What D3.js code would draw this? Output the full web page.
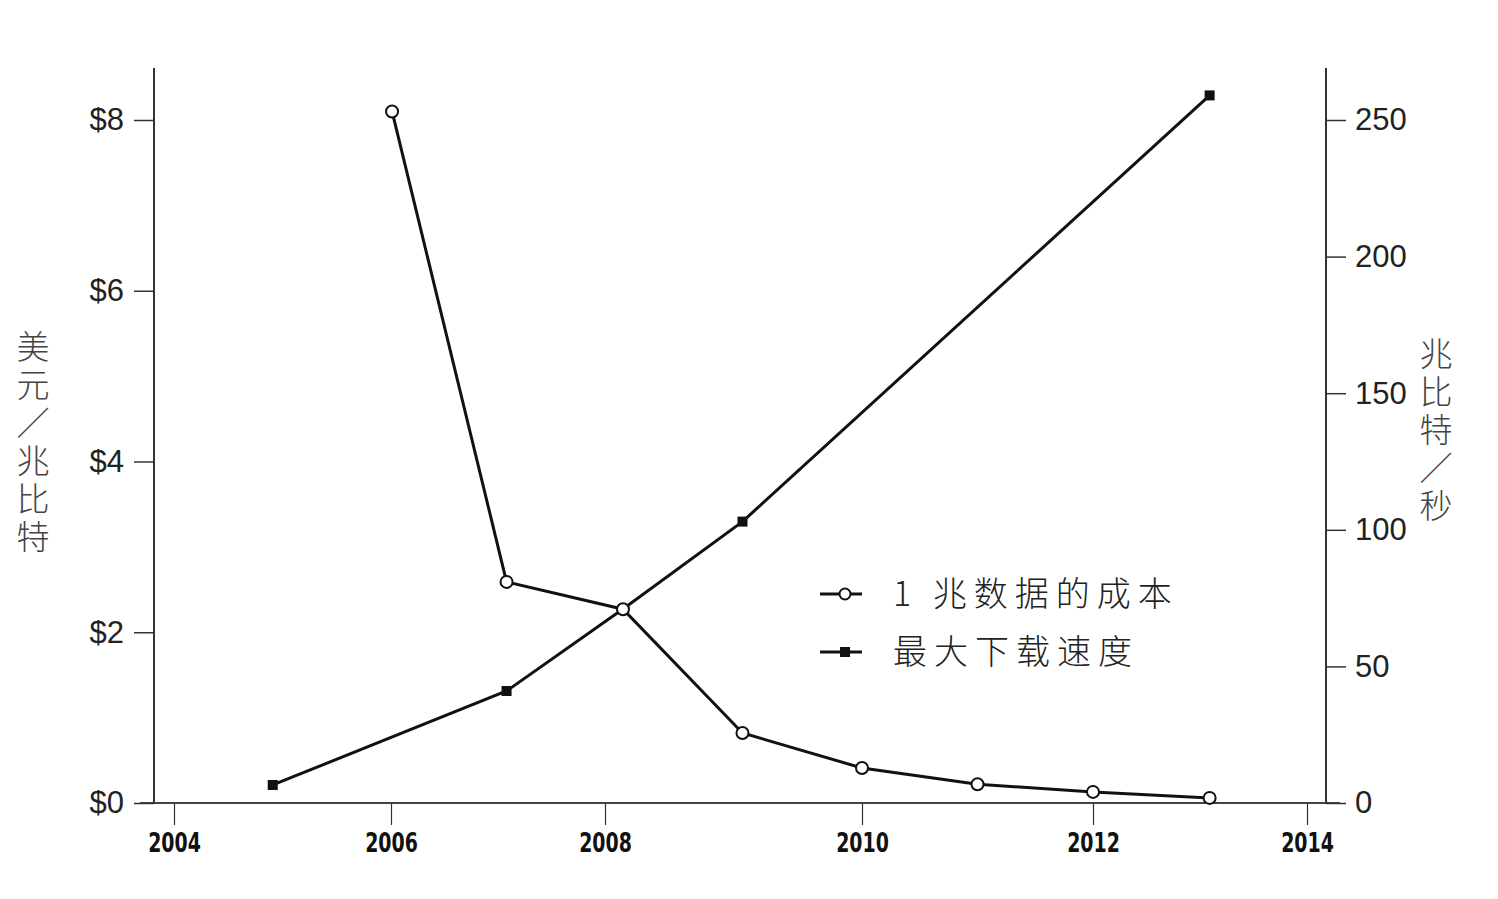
<!DOCTYPE html>
<html><head><meta charset="utf-8">
<script src="https://cdn.jsdelivr.net/npm/d3@7"></script>
<style>
html,body{margin:0;padding:0;background:#fff;}
svg{display:block;}
</style></head>
<body>
<svg id="chart" width="1498" height="899"></svg>
<script>
// ---- data ----
const tickYears = [2004, 2006, 2008, 2010, 2012, 2014];
const costYears = [2006.01, 2007.08, 2008.14, 2009.07, 2010.0, 2011.0, 2012.0, 2013.09];
const costValues = [8.10, 2.59, 2.27, 0.82, 0.41, 0.22, 0.13, 0.06];
const speedYears = [2004.91, 2007.08, 2008.14, 2009.07, 2013.09];
const speedValues = [6.6, 41, 71, 103, 259];
const leftTicks = [0, 2, 4, 6, 8];
const rightTicks = [0, 50, 100, 150, 200, 250];
const legendLabels = ["1 兆数据的成本", "最大下载速度"];
const leftTitle = "美元／兆比特";
const rightTitle = "兆比特／秒";

// ---- layout ----
const svg = d3.select("#chart");
const plotLeft = 154, plotRight = 1326, baseY = 803;
const x = d3.scaleLinear().domain(tickYears).range([174, 391, 605, 862, 1093, 1307]);
const yL = d3.scaleLinear().domain([0, 8]).range([baseY, 120]);
const yR = d3.scaleLinear().domain([0, 250]).range([baseY, 120]);
const axisColor = "#333";

// x baseline
svg.append("line").attr("x1", 140).attr("x2", 1340).attr("y1", baseY).attr("y2", baseY)
  .attr("stroke", "#444").attr("stroke-width", 2);

// left axis
const gL = svg.append("g").attr("transform", `translate(${plotLeft},0)`)
  .call(d3.axisLeft(yL).tickValues(leftTicks).tickSize(20).tickPadding(10).tickFormat(d => "$" + d));
gL.select(".domain").remove();
gL.selectAll(".tick line").attr("stroke", axisColor).attr("stroke-width", 1.5);
gL.selectAll(".tick text").attr("font-family", "Liberation Sans, Arial, sans-serif").attr("font-size", 31).attr("fill", "#222");
svg.append("line").attr("x1", plotLeft).attr("x2", plotLeft).attr("y1", 68).attr("y2", baseY)
  .attr("stroke", axisColor).attr("stroke-width", 2);

// right axis
const gR = svg.append("g").attr("transform", `translate(${plotRight},0)`)
  .call(d3.axisRight(yR).tickValues(rightTicks).tickSize(20).tickPadding(9));
gR.select(".domain").remove();
gR.selectAll(".tick line").attr("stroke", axisColor).attr("stroke-width", 1.5);
gR.selectAll(".tick text").attr("font-family", "Liberation Sans, Arial, sans-serif").attr("font-size", 31).attr("fill", "#222");
svg.append("line").attr("x1", plotRight).attr("x2", plotRight).attr("y1", 68).attr("y2", baseY)
  .attr("stroke", axisColor).attr("stroke-width", 2);

// bottom axis
const gX = svg.append("g").attr("transform", `translate(0,${baseY})`)
  .call(d3.axisBottom(x).tickValues(tickYears).tickSize(22).tickPadding(8).tickFormat(d3.format("d")));
gX.select(".domain").remove();
gX.selectAll(".tick line").attr("stroke", axisColor).attr("stroke-width", 1.2);
gX.selectAll(".tick text").attr("font-family", "Liberation Sans Narrow, DejaVu Sans Condensed, sans-serif")
  .attr("font-weight", "bold").attr("font-size", 27).attr("fill", "#111")
  .attr("transform", "scale(0.78,1)");

// axis titles (vertical)
function vtitle(str, cx, y0) {
  svg.append("text").attr("x", cx).attr("y", y0)
    .style("writing-mode", "vertical-rl")
    .attr("font-family", "Noto Sans CJK SC").attr("font-weight", 300)
    .attr("font-size", 33).attr("fill", "#444")
    .attr("letter-spacing", 5)
    .text(str);
}
vtitle(leftTitle, 33, 330);
vtitle(rightTitle, 1436, 337);

// lines
const lineCost = d3.line().x((d, i) => x(costYears[i])).y(d => yL(d));
const lineSpeed = d3.line().x((d, i) => x(speedYears[i])).y(d => yR(d));
svg.append("path").datum(speedValues).attr("d", lineSpeed)
  .attr("fill", "none").attr("stroke", "#111").attr("stroke-width", 3);
svg.append("path").datum(costValues).attr("d", lineCost)
  .attr("fill", "none").attr("stroke", "#111").attr("stroke-width", 3);

// markers
const sq = 10;
svg.selectAll("rect.spd").data(speedValues).enter().append("rect").attr("class", "spd")
  .attr("x", (d, i) => x(speedYears[i]) - sq / 2).attr("y", d => yR(d) - sq / 2)
  .attr("width", sq).attr("height", sq).attr("fill", "#111");
svg.selectAll("circle.cost").data(costValues).enter().append("circle").attr("class", "cost")
  .attr("cx", (d, i) => x(costYears[i])).attr("cy", d => yL(d)).attr("r", 6)
  .attr("fill", "#fff").attr("stroke", "#111").attr("stroke-width", 2);

// legend
const lg = svg.append("g").attr("transform", "translate(820,594)");
legendLabels.forEach((lab, i) => {
  const g = lg.append("g").attr("transform", `translate(0,${i * 58})`);
  g.append("line").attr("x1", 0).attr("x2", 42).attr("stroke", "#111").attr("stroke-width", 3);
  if (i === 0) {
    g.append("circle").attr("cx", 25).attr("r", 5.5).attr("fill", "#fff").attr("stroke", "#111").attr("stroke-width", 2);
  } else {
    g.append("rect").attr("x", 20).attr("y", -5).attr("width", 10).attr("height", 10).attr("fill", "#111");
  }
  g.append("text").attr("x", 73).attr("y", 12).attr("font-family", "Noto Sans CJK SC").attr("font-weight", 300)
    .attr("font-size", 34).attr("letter-spacing", 7).attr("fill", "#222").text(lab);
});
</script>
</body></html>
